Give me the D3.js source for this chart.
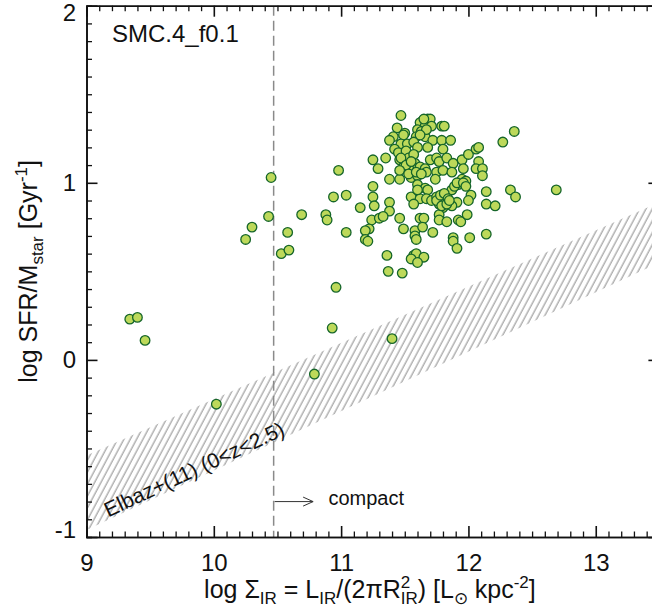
<!DOCTYPE html>
<html>
<head>
<meta charset="utf-8">
<script src="https://d3js.org/d3.v7.min.js"></script>
<style>
    body { margin: 0; background: #fff; }
    svg text { font-family: "Liberation Sans", Arial, Helvetica, sans-serif; fill: #111; }
    .axis path, .axis line { stroke: #111; stroke-width: 1.6px; }
    .axis.minor line { stroke-width: 1.3px; }
    .axis text { font-size: 24px; fill: #111; }
    .pt { fill: #bdd95a; stroke: #16662a; stroke-width: 1.3px; }
</style>
</head>
<body>
<svg id="chart" width="652" height="613"></svg>
<script>
// ---- data ----
var sigmaIR = [9.34, 9.40, 9.46, 10.02, 10.25, 10.30, 10.43, 10.45, 10.53, 10.58, 10.59, 10.79, 10.93, 11.40, 12.69,
    11.47, 11.44, 11.50, 11.49, 11.41, 11.38, 11.64, 11.62, 11.68, 11.70, 11.66, 11.71, 11.60, 11.63, 11.79, 11.81,
    11.59, 11.66, 11.72, 11.79, 11.86, 11.47, 11.52, 11.57, 11.42, 11.45, 11.51, 11.60, 11.68, 11.80,
    11.25, 11.35, 11.29, 10.98, 11.46, 11.50, 11.53, 11.57, 11.58, 11.49, 11.54, 11.62, 11.66, 11.70, 11.75,
    11.77, 11.83, 11.88, 11.95, 11.96, 12.00, 12.06, 12.08, 12.08, 12.06, 12.11, 12.11, 12.27, 12.36,
    11.38, 11.46, 11.55, 11.60, 11.67, 11.75, 11.80, 11.87, 11.95, 11.98, 11.92, 11.74,
    11.25, 11.25, 11.26, 11.38, 11.38, 10.94, 11.04, 11.15, 10.69, 10.88, 10.89, 11.04, 11.24, 11.30, 11.33,
    11.22, 11.19, 11.19, 11.21, 11.36, 11.46, 11.49, 11.58, 11.58, 11.59, 11.62, 11.65, 11.64, 11.72,
    11.55, 11.62, 11.57, 11.60, 11.66, 11.68, 11.60, 11.67, 11.71, 11.75, 11.77, 11.80, 11.83, 11.87, 11.89,
    11.91, 11.96, 11.98, 12.02, 12.00, 11.91, 11.87, 11.80, 11.77, 11.77, 11.83, 11.92, 11.94, 11.99, 12.01,
    12.14, 12.14, 12.21, 12.14, 12.33, 12.37, 11.88, 11.88, 11.91, 11.57, 11.59, 11.55, 11.65, 11.60,
    11.37, 11.48, 10.96, 11.47, 11.51, 11.55, 11.46, 11.53, 11.59, 11.63, 11.75, 11.78, 11.81, 11.84,
    11.79, 11.83, 11.85, 11.65, 11.67, 11.62];
var logSSFR = [0.23, 0.24, 0.11, -0.25, 0.68, 0.75, 0.81, 1.03, 0.60, 0.72, 0.62, -0.08, 0.18, 0.12, 0.96,
    1.38, 1.31, 1.28, 1.27, 1.26, 1.24, 1.35, 1.34, 1.36, 1.36, 1.32, 1.32, 1.30, 1.29, 1.32, 1.32,
    1.26, 1.26, 1.24, 1.24, 1.24, 1.22, 1.22, 1.23, 1.19, 1.17, 1.18, 1.20, 1.20, 1.19,
    1.13, 1.14, 1.08, 1.07, 1.13, 1.12, 1.14, 1.16, 1.11, 1.09, 1.07, 1.09, 1.08, 1.13, 1.14,
    1.12, 1.14, 1.11, 1.13, 1.08, 1.16, 1.19, 1.20, 1.12, 1.08, 1.08, 1.04, 1.23, 1.29,
    1.02, 1.02, 1.03, 1.04, 1.06, 1.06, 1.07, 1.06, 1.02, 1.01, 0.99, 1.02,
    0.98, 0.92, 0.87, 0.89, 0.84, 0.92, 0.93, 0.86, 0.82, 0.82, 0.79, 0.72, 0.79, 0.80, 0.81,
    0.74, 0.73, 0.68, 0.67, 0.59, 0.80, 0.74, 0.73, 0.70, 0.68, 0.80, 0.80, 0.75, 0.72,
    0.92, 0.91, 0.88, 0.99, 0.97, 0.96, 0.96, 0.91, 0.90, 0.92, 0.88, 0.90, 0.93, 0.96, 0.98,
    1.00, 1.00, 0.98, 0.93, 0.90, 0.89, 0.87, 0.86, 0.82, 0.79, 0.78, 0.79, 0.78, 0.82, 0.69,
    0.95, 0.88, 0.87, 0.71, 0.96, 0.92, 0.69, 0.67, 0.63, 0.59, 0.60, 0.57, 0.58, 0.55,
    0.50, 0.49, 0.41, 1.14, 1.10, 1.12, 1.07, 1.05, 1.06, 1.05, 0.90, 0.93, 0.94, 0.91,
    0.87, 0.88, 0.90, 1.36, 1.30, 1.27];

// Elbaz+(11) band edges
var bandX = [9, 13.5];
var bandUpper = [-0.54, 0.89];
var bandLower = [-0.96, 0.55];

var compactLimit = 10.47;
var xMajor = [9, 10, 11, 12, 13];
var yMajor = [-1, 0, 1, 2];

var svg = d3.select("#chart");
var mL = 86.5, mR = 659.4, mT = 5.7, mB = 537;

var x = d3.scaleLinear().domain([9, 13.5]).range([mL, mR]);
var y = d3.scaleLinear().domain([-1, 2]).range([mB, mT]);

var defs = svg.append("defs");
defs.append("clipPath").attr("id", "plotclip")
    .append("rect").attr("x", mL).attr("y", mT).attr("width", mR - mL).attr("height", mB - mT);

var pat = defs.append("pattern").attr("id", "hatch")
    .attr("patternUnits", "userSpaceOnUse")
    .attr("width", 5.6).attr("height", 10)
    .attr("patternTransform", "rotate(28)");
pat.append("line").attr("x1", 2).attr("y1", 0).attr("x2", 2).attr("y2", 10)
    .attr("stroke", "#8a8a8a").attr("stroke-width", 1);

var plot = svg.append("g").attr("clip-path", "url(#plotclip)");

// hatched band
var band = bandX.map(function (d, i) { return {x: d, lo: bandLower[i], hi: bandUpper[i]}; });
plot.append("path")
    .datum(band)
    .attr("fill", "url(#hatch)")
    .attr("d", d3.area()
        .x(function (d) { return x(d.x); })
        .y0(function (d) { return y(d.lo); })
        .y1(function (d) { return y(d.hi); }));

// compact limit
plot.append("line")
    .attr("x1", x(compactLimit)).attr("x2", x(compactLimit))
    .attr("y1", mT).attr("y2", mB)
    .attr("stroke", "#8a8a8a").attr("stroke-width", 1.5)
    .attr("stroke-dasharray", "10,5");

// galaxies
var pts = sigmaIR.map(function (d, i) { return {x: d, y: logSSFR[i]}; });
plot.selectAll("circle")
    .data(pts)
    .enter().append("circle")
    .attr("class", "pt")
    .attr("cx", function (d) { return x(d.x); })
    .attr("cy", function (d) { return y(d.y); })
    .attr("r", 4.8);

// axes
var xMinor = d3.range(9, 13.51, 0.1).filter(function (d) { return Math.abs(d - Math.round(d)) > 0.01; });
var yMinor = d3.range(-1, 2.01, 0.1).filter(function (d) { return Math.abs(d - Math.round(d)) > 0.01; });

svg.append("g").attr("class", "axis minor").attr("transform", "translate(0," + mB + ")")
    .call(d3.axisBottom(x).tickValues(xMinor).tickSize(-5.5).tickFormat(""));
svg.append("g").attr("class", "axis minor").attr("transform", "translate(0," + mT + ")")
    .call(d3.axisTop(x).tickValues(xMinor).tickSize(-5.5).tickFormat(""));
svg.append("g").attr("class", "axis minor").attr("transform", "translate(" + mL + ",0)")
    .call(d3.axisLeft(y).tickValues(yMinor).tickSize(-5.5).tickFormat(""));
svg.append("g").attr("class", "axis minor").attr("transform", "translate(" + mR + ",0)")
    .call(d3.axisRight(y).tickValues(yMinor).tickSize(-5.5).tickFormat(""));

svg.append("g").attr("class", "axis").attr("transform", "translate(0," + mB + ")")
    .call(d3.axisBottom(x).tickValues(xMajor).tickSizeInner(-11).tickSizeOuter(0).tickPadding(17).tickFormat(d3.format("d")));
svg.append("g").attr("class", "axis").attr("transform", "translate(0," + mT + ")")
    .call(d3.axisTop(x).tickValues(xMajor).tickSizeInner(-11).tickSizeOuter(0).tickFormat(""));
var yAx = svg.append("g").attr("class", "axis").attr("transform", "translate(" + mL + ",0)")
    .call(d3.axisLeft(y).tickValues(yMajor).tickSizeInner(-11).tickSizeOuter(0).tickPadding(10.5).tickFormat(d3.format("d")));
svg.append("g").attr("class", "axis").attr("transform", "translate(" + mR + ",0)")
    .call(d3.axisRight(y).tickValues(yMajor).tickSizeInner(-11).tickSizeOuter(0).tickFormat(""));

// end labels kept inside the frame
yAx.selectAll(".tick text")
    .attr("y", function (d) { return Math.min(Math.max(y(d), 13), 529.5) - y(d); })
    .text(function (d) { return d < 0 ? "-" + Math.abs(d) : d; });

// y label
var yl = svg.append("text")
    .attr("transform", "translate(37," + ((mT + mB) / 2) + ") rotate(-90)")
    .attr("text-anchor", "middle")
    .style("font-size", "25px");
yl.append("tspan").text("log SFR/M");
yl.append("tspan").attr("dy", 6).style("font-size", "17px").text("star");
yl.append("tspan").attr("dy", -6).text(" [Gyr");
yl.append("tspan").attr("dy", -10).style("font-size", "17px").text("-1");
yl.append("tspan").attr("dy", 10).text("]");

// x label
var xl = svg.append("text")
    .attr("x", (mL + mR) / 2 - 3).attr("y", 598)
    .attr("text-anchor", "middle")
    .style("font-size", "25px");
xl.append("tspan").text("log Σ");
xl.append("tspan").attr("dy", 6).style("font-size", "17px").text("IR");
xl.append("tspan").attr("dy", -6).text(" = L");
xl.append("tspan").attr("dy", 6).style("font-size", "17px").text("IR");
xl.append("tspan").attr("dy", -6).text("/(2πR");
xl.append("tspan").attr("dy", -10).style("font-size", "17px").text("2");
xl.append("tspan").attr("dx", -9.5).attr("dy", 16).style("font-size", "17px").text("IR");
xl.append("tspan").attr("dy", -6).text(") [L");
xl.append("tspan").attr("dy", 6).style("font-size", "17px").text("⊙");
xl.append("tspan").attr("dy", -6).text(" kpc");
xl.append("tspan").attr("dy", -10).style("font-size", "17px").text("-2");
xl.append("tspan").attr("dy", 10).text("]");

// model name
svg.append("text").attr("x", 112).attr("y", 41.5).style("font-size", "24px").text("SMC.4_f0.1");

// compact arrow + label
var ay = y(-0.80);
svg.append("line").attr("x1", x(compactLimit) + 1).attr("x2", x(10.78)).attr("y1", ay).attr("y2", ay)
    .attr("stroke", "#333").attr("stroke-width", 1);
svg.append("path")
    .attr("d", "M" + (x(10.78) - 10) + "," + (ay - 4.5) + "L" + x(10.78) + "," + ay + "L" + (x(10.78) - 10) + "," + (ay + 4.5))
    .attr("fill", "none").attr("stroke", "#333").attr("stroke-width", 1);
svg.append("text").attr("x", x(10.9)).attr("y", ay + 3).style("font-size", "20px").text("compact");

// band label
svg.append("text")
    .attr("transform", "translate(" + x(9.87) + "," + y(-0.655) + ") rotate(-25)")
    .attr("text-anchor", "middle")
    .style("font-size", "21px")
    .text("Elbaz+(11) (0<z<2.5)");
</script>
</body>
</html>
